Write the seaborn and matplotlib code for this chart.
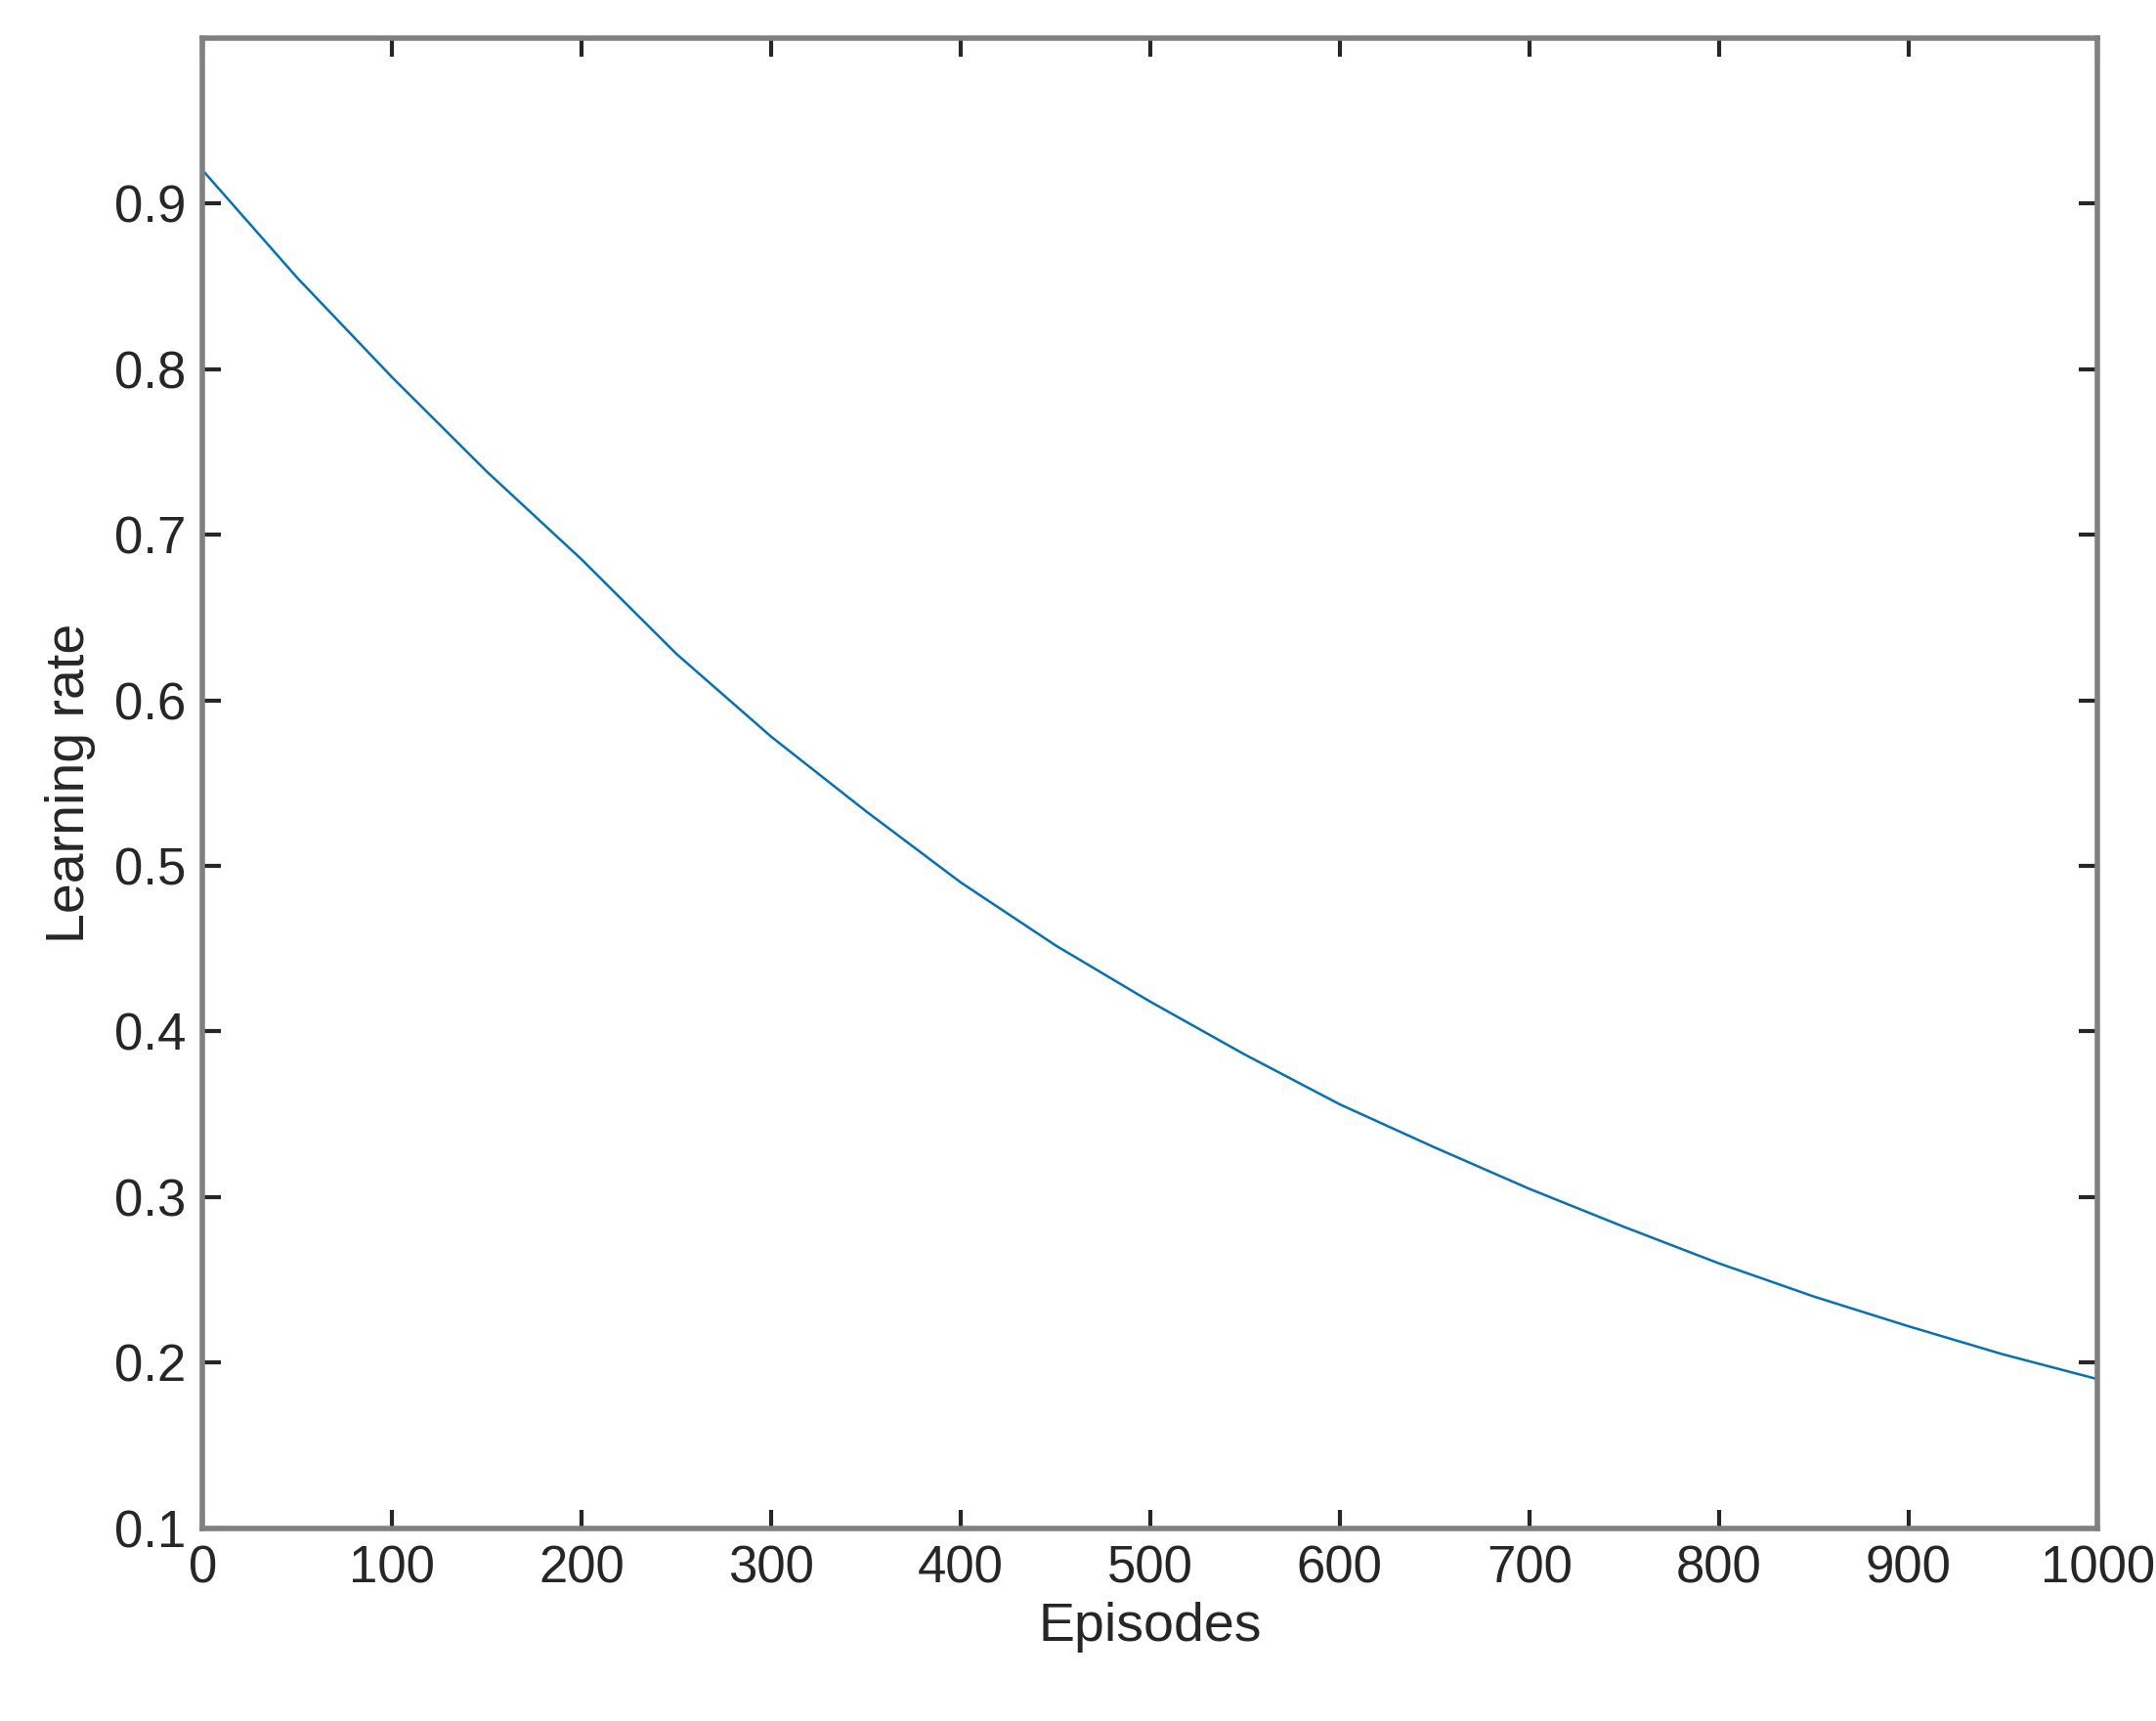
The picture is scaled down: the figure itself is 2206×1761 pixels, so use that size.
import matplotlib
matplotlib.use("Agg")
import matplotlib.pyplot as plt
import seaborn as sns
import pandas as pd

episodes = [0, 50, 100, 150, 200, 250, 300, 350, 400, 450, 500, 550, 600, 650, 700, 750, 800, 850, 900, 950, 1000]
learning_rate = [0.92, 0.855, 0.795, 0.738, 0.685, 0.628, 0.578, 0.533, 0.490, 0.452, 0.418, 0.386, 0.356, 0.330, 0.305, 0.282, 0.260, 0.240, 0.222, 0.205, 0.190]
xticks = [0, 100, 200, 300, 400, 500, 600, 700, 800, 900, 1000]
yticks = [0.1, 0.2, 0.3, 0.4, 0.5, 0.6, 0.7, 0.8, 0.9]

sns.set_theme(style="white")
plt.rcParams['font.family'] = ['Liberation Sans', 'DejaVu Sans']

fig = plt.figure(figsize=(22.06, 17.61), dpi=100)
ax = fig.add_axes([0.094, 0.112, 0.879, 0.866])
df = pd.DataFrame({"Episodes": episodes, "Learning rate": learning_rate})
sns.lineplot(data=df, x="Episodes", y="Learning rate", ax=ax, color="#0072BD", linewidth=1.8)
ax.set_xlim(0, 1000)
ax.set_ylim(0.1, 1.0)
ax.set_xticks(xticks)
ax.set_yticks(yticks)
ax.set_yticklabels([f"{v:.1f}" for v in yticks])
ax.tick_params(direction="in", length=14, width=3, color="#262626", labelsize=38,
               labelcolor="#262626", top=True, right=True, bottom=True, left=True, pad=12)
for s in ax.spines.values():
    s.set_color("#808080")
    s.set_linewidth(4)
ax.set_xlabel("Episodes", fontsize=40, color="#262626", labelpad=6)
ax.set_ylabel("Learning rate", fontsize=40, color="#262626", labelpad=14)
fig.savefig("out.png", dpi=100)
